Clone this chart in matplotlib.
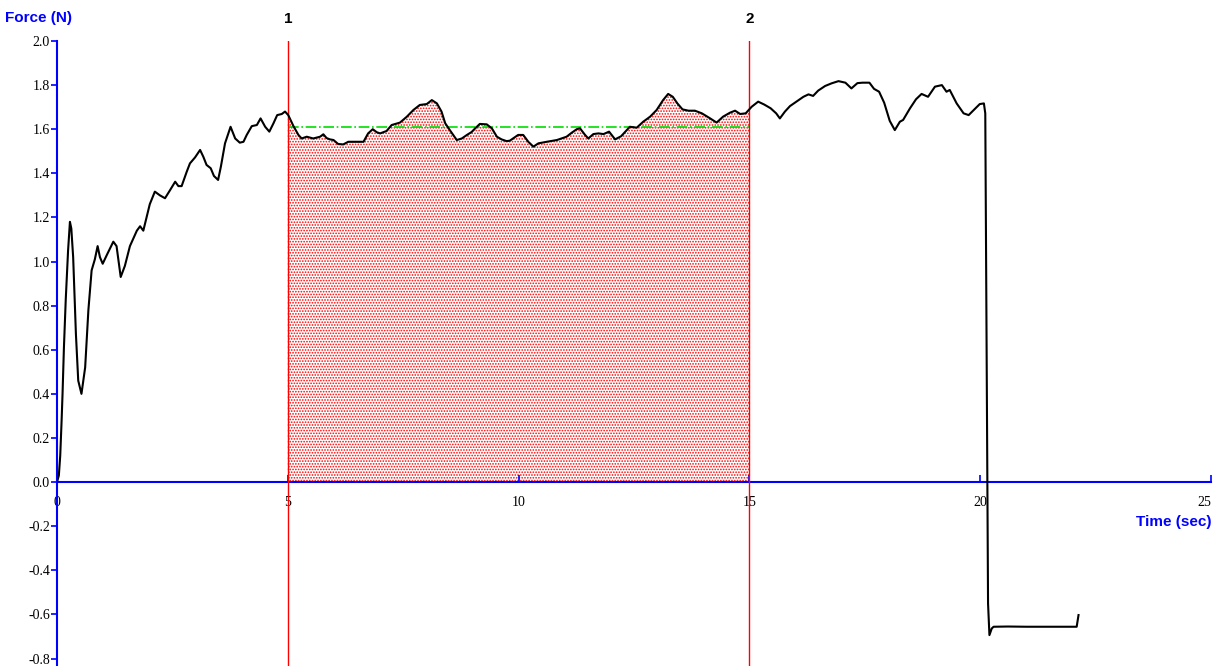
import matplotlib.pyplot as plt
import numpy as np

# Kraftverlauf (Zeit in s, Kraft in N)
zeit = [0.00, 0.04, 0.07, 0.10, 0.12, 0.15, 0.19, 0.24, 0.28, 0.31, 0.35, 0.41, 0.46, 0.53,
        0.61, 0.68, 0.75, 0.82, 0.88, 0.93, 0.99, 1.08, 1.22, 1.29, 1.38, 1.47, 1.58, 1.73,
        1.80, 1.87, 1.94, 2.01, 2.12, 2.23, 2.34, 2.45, 2.56, 2.63, 2.70, 2.81, 2.88, 2.99,
        3.10, 3.17, 3.24, 3.33, 3.40, 3.49, 3.55, 3.64, 3.76, 3.86, 3.96, 4.04, 4.11, 4.22,
        4.33, 4.41, 4.51, 4.60, 4.69, 4.77, 4.87, 4.94, 5.01, 5.12, 5.23, 5.30, 5.41, 5.55,
        5.70, 5.77, 5.84, 5.91, 5.99, 6.09, 6.20, 6.31, 6.64, 6.74, 6.84, 6.93, 7.00, 7.14,
        7.25, 7.43, 7.58, 7.72, 7.86, 8.01, 8.12, 8.23, 8.33, 8.41, 8.51, 8.66, 8.77, 8.88,
        8.98, 9.06, 9.16, 9.31, 9.42, 9.53, 9.63, 9.74, 9.81, 9.99, 10.10, 10.21, 10.32,
        10.43, 10.61, 10.83, 11.04, 11.15, 11.26, 11.33, 11.44, 11.51, 11.62, 11.73, 11.84,
        11.96, 12.09, 12.22, 12.41, 12.56, 12.70, 12.85, 12.99, 13.13, 13.24, 13.34, 13.44,
        13.55, 13.68, 13.82, 13.97, 14.15, 14.29, 14.43, 14.58, 14.69, 14.80, 14.92, 15.05,
        15.19, 15.32, 15.46, 15.58, 15.66, 15.77, 15.88, 16.02, 16.17, 16.28, 16.38, 16.49,
        16.64, 16.78, 16.93, 17.08, 17.21, 17.34, 17.45, 17.60, 17.70, 17.81, 17.92, 18.04,
        18.15, 18.26, 18.33, 18.48, 18.61, 18.73, 18.87, 19.02, 19.17, 19.27, 19.34, 19.49,
        19.64, 19.75, 19.86, 19.99, 20.08, 20.11, 20.17, 20.20, 20.25, 20.29, 20.60, 21.00,
        21.50, 22.09, 22.13]
kraft = [0.00, 0.03, 0.12, 0.28, 0.40, 0.61, 0.83, 1.05, 1.18, 1.15, 1.02, 0.67, 0.46, 0.40,
         0.52, 0.78, 0.96, 1.01, 1.07, 1.02, 0.99, 1.03, 1.09, 1.07, 0.93, 0.98, 1.07, 1.14,
         1.16, 1.14, 1.20, 1.26, 1.317, 1.30, 1.287, 1.324, 1.362, 1.342, 1.342, 1.407, 1.445,
         1.472, 1.506, 1.475, 1.438, 1.423, 1.388, 1.37, 1.43, 1.536, 1.611, 1.558, 1.539,
         1.543, 1.574, 1.614, 1.619, 1.649, 1.611, 1.589, 1.627, 1.664, 1.669, 1.68, 1.664,
         1.615, 1.574, 1.558, 1.566, 1.558, 1.566, 1.577, 1.56, 1.554, 1.551, 1.533, 1.531,
         1.543, 1.543, 1.581, 1.60, 1.586, 1.581, 1.592, 1.619, 1.63, 1.657, 1.687, 1.71,
         1.714, 1.732, 1.717, 1.68, 1.627, 1.596, 1.551, 1.558, 1.574, 1.587, 1.604, 1.624,
         1.622, 1.604, 1.566, 1.554, 1.546, 1.548, 1.574, 1.574, 1.543, 1.521, 1.536, 1.543,
         1.551, 1.566, 1.584, 1.60, 1.604, 1.574, 1.558, 1.578, 1.581, 1.578, 1.589, 1.554,
         1.568, 1.611, 1.607, 1.634, 1.657, 1.687, 1.732, 1.76, 1.747, 1.717, 1.69, 1.684,
         1.684, 1.672, 1.649, 1.63, 1.657, 1.675, 1.684, 1.669, 1.672, 1.702, 1.725, 1.712,
         1.695, 1.672, 1.649, 1.68, 1.705, 1.725, 1.747, 1.758, 1.751, 1.775, 1.796, 1.808,
         1.818, 1.811, 1.785, 1.809, 1.811, 1.811, 1.783, 1.77, 1.72, 1.638, 1.596, 1.634,
         1.642, 1.695, 1.736, 1.76, 1.747, 1.793, 1.80, 1.77, 1.778, 1.717, 1.672, 1.664,
         1.687, 1.714, 1.717, 1.672, -0.55, -0.694, -0.664, -0.656, -0.655, -0.656, -0.656,
         -0.656, -0.603]

# Auswertebereich (Cursor 1 und 2) und Mittelwert darin
cursor_start = 5.0
cursor_ende = 15.0
kraft_mittel = 1.61

y_ticks = [-0.8, -0.6, -0.4, -0.2, 0.0, 0.2, 0.4, 0.6, 0.8, 1.0, 1.2, 1.4, 1.6, 1.8, 2.0]
x_ticks = [0, 5, 10, 15, 20, 25]

blau = '#0000ff'
rot = '#ff0000'

plt.rcParams['hatch.linewidth'] = 0.8
plt.rcParams['hatch.color'] = rot

fig = plt.figure(figsize=(12.19, 6.66), dpi=100)
ax = fig.add_axes([57 / 1219, 0.0, (1211 - 57) / 1219, 625 / 666])
ax.set_xlim(0, 25)
ax.set_ylim(-0.834, 2.0)

t = np.array(zeit)
f = np.array(kraft)

# Fläche zwischen den Cursorn
t_fl = np.concatenate(([cursor_start], t[(t > cursor_start) & (t < cursor_ende)], [cursor_ende]))
f_fl = np.interp(t_fl, t, f)
ax.fill_between(t_fl, 0, f_fl, facecolor='none', edgecolor=rot, hatch='......',
                linewidth=0, zorder=1)

# Mittelwertlinie
ax.plot([cursor_start, cursor_ende], [kraft_mittel, kraft_mittel], color='#00dd00',
        linestyle='-.', linewidth=1.2, zorder=2)

# Cursorlinien
for x, name in [(cursor_start, '1'), (cursor_ende, '2')]:
    ax.axvline(x, color=rot, linewidth=1.0, zorder=3)
    ax.text(x, 2.07, name, ha='center', va='bottom', fontsize=11, fontweight='bold',
            family='Liberation Sans', clip_on=False)

ax.plot(t, f, color='black', linewidth=1.5, zorder=4)

# Achsen
for s in ['top', 'right']:
    ax.spines[s].set_visible(False)
ax.spines['bottom'].set_position(('data', 0))
ax.spines['bottom'].set_color(blau)
ax.spines['left'].set_color(blau)
ax.spines['bottom'].set_linewidth(1.5)
ax.spines['left'].set_linewidth(1.5)
ax.set_zorder(1)

ax.set_yticks(y_ticks)
ax.set_yticklabels(['%.1f' % v for v in y_ticks], family='Liberation Serif', fontsize=10)
ax.set_xticks(x_ticks)
ax.set_xticklabels([str(v) for v in x_ticks], family='Liberation Serif', fontsize=10)
ax.tick_params(axis='y', direction='out', length=4, width=1.2, color=blau, pad=1)
ax.tick_params(axis='x', direction='in', length=5, width=1.2, color=blau, pad=10)
ax.get_xticklabels()[-1].set_horizontalalignment('right')

fig.text(5 / 1219, 1 - 18 / 666, 'Force (N)', ha='left', va='center',
         color=blau, fontsize=11, fontweight='bold', family='Liberation Sans')
ax.text(25, -0.18, 'Time (sec)', ha='right', va='center', color=blau, fontsize=11,
        fontweight='bold', family='Liberation Sans')

fig.savefig('out.png', dpi=100)
